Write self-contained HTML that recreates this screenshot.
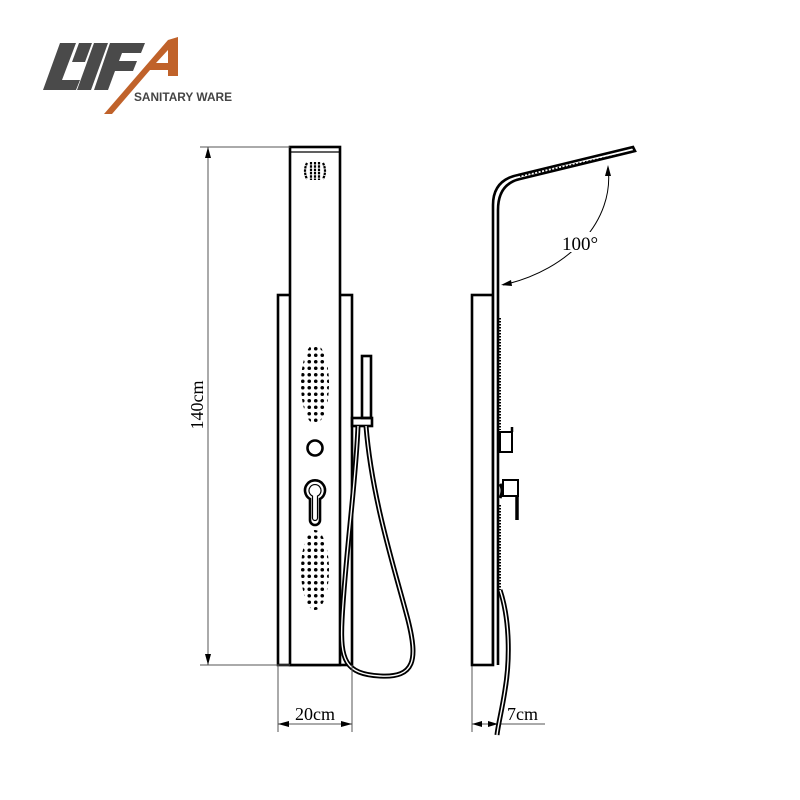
<!DOCTYPE html>
<html><head><meta charset="utf-8"><style>body{margin:0;background:#fff}svg{display:block}</style></head>
<body>
<svg width="800" height="800" viewBox="0 0 800 800" xmlns="http://www.w3.org/2000/svg">
<defs>
<pattern id="dots" x="0.5" y="1" width="6.5" height="6.5" patternUnits="userSpaceOnUse"><circle cx="3.25" cy="3.25" r="1.8" fill="#000"/></pattern>
<clipPath id="o1"><ellipse cx="315" cy="384" rx="14" ry="40"/></clipPath>
<clipPath id="o2"><ellipse cx="315" cy="570" rx="14" ry="40"/></clipPath>
</defs>
<!-- logo -->
<g fill="#4a4a4a">
<polygon points="60,43 76,43 62,80 80,80 76,90 43,90"/>
<polygon points="79,43 92,43 85,62 72,62"/>
<polygon points="94,43 108,43 91,90 77,90"/>
<polygon points="110,43 145,43 141,53 122,53 119,61 137,61 133,71 115,71 108,90 94,90"/>
</g>
<polygon points="104,114 168,40 178,37 178,76 168,76 168,70 150,70 112,114" fill="#c0622a"/>
<polygon points="156,63 168,50 168,63" fill="#fff"/>
<text x="134" y="101" font-family="Liberation Sans,sans-serif" font-size="12" font-weight="bold" fill="#444" textLength="98" lengthAdjust="spacingAndGlyphs">SANITARY WARE</text>

<g fill="none" stroke="#000" stroke-width="2.6">
<rect x="278" y="295" width="74" height="370"/>
<rect x="290" y="147" width="50" height="518" fill="#fff"/>
<line x1="290" y1="152" x2="340" y2="152" stroke-width="1.2"/>
<path d="M307,163 q-4,8 0,16 M323,163 q4,8 0,16 M311,162 v18 M315,162 v18 M319,162 v18" stroke-width="2.2" stroke-dasharray="2.5 0.8"/>
<circle cx="315" cy="448" r="7.5"/>
<path d="M310,499 a10,10 0 1 1 10,0 v21 a5,5 0 0 1 -10,0 z"/>
<path d="M312.5,496 a6,6 0 1 1 5,0 v22 a2.5,2.5 0 0 1 -5,0 z" stroke-width="1.2"/>
<rect x="362" y="356" width="9" height="62"/>
<rect x="352" y="418" width="20" height="8"/>
<path d="M358,426 C356,480 345,560 342,620 C340,660 345,674 380,676 C415,678 418,660 408,620 C395,570 372,500 366,426" stroke-width="5"/>
<path d="M358,426 C356,480 345,560 342,620 C340,660 345,674 380,676 C415,678 418,660 408,620 C395,570 372,500 366,426" stroke="#fff" stroke-width="1.4"/>
</g>
<rect x="299" y="344" width="32" height="82" fill="url(#dots)" clip-path="url(#o1)"/>
<rect x="299" y="530" width="32" height="82" fill="url(#dots)" clip-path="url(#o2)"/>

<g stroke="#555" stroke-width="1" fill="none">
<line x1="200" y1="147" x2="290" y2="147"/>
<line x1="200" y1="665" x2="290" y2="665"/>
<line x1="208" y1="147" x2="208" y2="665"/>
<line x1="278" y1="665" x2="278" y2="732"/>
<line x1="352" y1="665" x2="352" y2="732"/>
<line x1="278" y1="724" x2="352" y2="724"/>
<line x1="472" y1="665" x2="472" y2="732"/>
<line x1="472" y1="724" x2="545" y2="724"/>
</g>
<g fill="#000">
<polygon points="208,147 205,158 211,158"/>
<polygon points="208,665 205,654 211,654"/>
<polygon points="278,724 289,721 289,727"/>
<polygon points="352,724 341,721 341,727"/>
<polygon points="472,724 482,721 482,727"/>
<polygon points="498,724 488,721 488,727"/>
</g>
<text transform="translate(203,405) rotate(-90)" text-anchor="middle" font-family="Liberation Serif,serif" font-size="18">140cm</text>
<text x="315" y="720" text-anchor="middle" font-family="Liberation Serif,serif" font-size="18">20cm</text>
<text x="507" y="720" font-family="Liberation Serif,serif" font-size="18">7cm</text>

<g fill="none" stroke="#000" stroke-width="2.6">
<rect x="472" y="295" width="21" height="370"/>
<path d="M493,665 V205 Q493,180 518,175 L633,147 L635,151 L520,179 Q498,184 498,210 V665" fill="#fff"/>
<rect x="500" y="432" width="12" height="20" stroke-width="2"/>
<line x1="512" y1="432" x2="512" y2="427" stroke-width="2.5"/>
<rect x="503" y="480" width="15" height="16" stroke-width="2"/>
<line x1="517" y1="496" x2="517" y2="520" stroke-width="3.5"/>
<path d="M500,484 q4,6 0,14" stroke-width="3"/>
<line x1="500" y1="318" x2="500" y2="430" stroke-width="2" stroke-dasharray="1.5 1.5"/>
<line x1="500" y1="505" x2="500" y2="590" stroke-width="2" stroke-dasharray="1.5 1.5"/>
<path d="M500,590 C510,620 510,660 505,690 C502,710 498,725 497,735" stroke-width="5"/>
<path d="M500,590 C510,620 510,660 505,690 C502,710 498,725 497,735" stroke="#fff" stroke-width="1.4"/>
<path d="M608,167 C615,220 570,270 503,285" stroke-width="1"/>
</g>
<path d="M520,176 L632,152" stroke="#000" stroke-width="2" stroke-dasharray="1.5 2"/>
<polygon points="608,165 605,176 611,176" fill="#000"/>
<polygon points="501,285 511,280 512,286" fill="#000"/>
<rect x="560" y="232" width="55" height="20" fill="#fff"/>
<text x="562" y="250" font-family="Liberation Serif,serif" font-size="19">100°</text>
</svg>
</body></html>
